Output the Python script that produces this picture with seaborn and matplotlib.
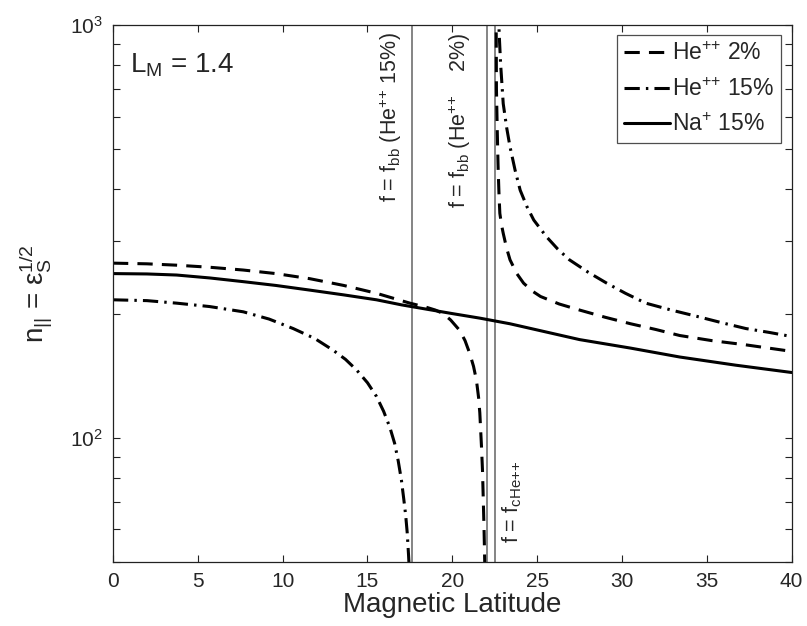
import numpy as np
import pandas as pd
import matplotlib
matplotlib.use("Agg")
import matplotlib.pyplot as plt
from matplotlib.lines import Line2D
from matplotlib.ticker import LogLocator, LogFormatterMathtext, NullFormatter
import seaborn as sns

# ---------------- data ----------------
he2_left_x = [0, 2, 3.75, 5.7, 7.68, 9.6, 11.6, 13.6, 15.53, 16.5, 17.5, 18.5, 19.0, 19.46,
              19.9, 20.44, 20.75, 21.03, 21.25, 21.42, 21.55, 21.62, 21.72, 21.78, 21.82, 21.87, 21.91, 21.95]
he2_left_y = [265, 264, 262, 259, 255, 250, 243, 234, 224, 218, 212, 207, 204, 200,
              193, 182, 172, 160, 149, 138, 125, 115, 95, 83, 72, 60, 50, 45]
he2_right_x = [22.58, 22.6, 22.65, 22.7, 22.75, 22.8, 22.9, 23.0, 23.2, 23.4, 23.8, 24.2, 24.7,
               25.2, 26.3, 27.5, 29.0, 30.5, 32.0, 33.4, 35.3, 37.3, 40]
he2_right_y = [1100, 700, 550, 450, 390, 350, 328, 313, 288, 270, 250, 237, 227,
               220, 211, 204, 196, 189, 183, 177, 172, 168, 162]

he15_left_x = [0, 2, 3.75, 5.7, 7.68, 9.2, 10.62, 11.9, 12.98, 13.7, 14.36, 15.0, 15.53, 15.95,
               16.32, 16.6, 16.81, 17.0, 17.14, 17.25, 17.34, 17.42, 17.5]
he15_left_y = [216, 215, 212, 208, 202, 194, 184, 174, 163, 155, 146, 136, 126, 116,
               106, 97, 88, 79, 71, 65, 59, 52, 45]
he15_right_x = [22.72, 22.76, 22.85, 23.0, 23.2, 23.4, 23.7, 24.0, 24.4, 24.8, 25.55, 26.2, 26.9,
                28.0, 29.1, 30.2, 31.4, 32.9, 34.4, 35.9, 37.3, 38.7, 40]
he15_right_y = [1100, 955, 800, 645, 565, 507, 445, 398, 363, 337, 307, 287, 270,
                252, 237, 224, 212, 204, 197, 190, 184, 180, 176]

na15_x = [0, 2, 3.75, 5.7, 7.68, 9.6, 11.6, 13.6, 15.53, 17, 18.48, 20, 21.62, 23.39,
          25.4, 27.5, 30.5, 33.4, 36.7, 40]
na15_y = [250, 249.5, 248, 244, 239, 234, 228, 222, 216, 210, 205, 200, 195, 189,
          181, 173, 165, 157, 150, 144]

series_labels = [r"He$^{{+}{+}}$ 2%", r"He$^{{+}{+}}$ 15%", r"Na$^{+}$ 15%"]
vlines_x = [17.6, 22.03, 22.5]
vline_texts = [r"f = f$_{\mathrm{bb}}$ (He$^{{+}{+}}$ 15%)",
               r"f = f$_{\mathrm{bb}}$ (He$^{{+}{+}}$    2%)",
               r"f = f$_{\mathrm{cHe{+}{+}}}$"]

# ---------------- build table ----------------
rows = []
def add(xs, ys, label, branch):
    for x, y in zip(xs, ys):
        rows.append({"lat": x, "n": y, "series": label, "branch": branch})

add(he2_left_x, he2_left_y, series_labels[0], "he2L")
add(he2_right_x, he2_right_y, series_labels[0], "he2R")
add(he15_left_x, he15_left_y, series_labels[1], "he15L")
add(he15_right_x, he15_right_y, series_labels[1], "he15R")
add(na15_x, na15_y, series_labels[2], "na")
df = pd.DataFrame(rows)

# ---------------- style ----------------
sns.set_style("ticks")
plt.rcParams["font.family"] = ["Liberation Sans", "DejaVu Sans"]
plt.rcParams["mathtext.fontset"] = "custom"
plt.rcParams["mathtext.rm"] = "Liberation Sans"
plt.rcParams["mathtext.it"] = "Liberation Sans"
plt.rcParams["mathtext.bf"] = "Liberation Sans:bold"
plt.rcParams["mathtext.sf"] = "Liberation Sans"

fig = plt.figure(figsize=(8.07, 6.26), dpi=100)
ax = fig.add_axes([0.140, 0.102, 0.841, 0.858])

dash_map = {series_labels[0]: (0, (5, 3)),
            series_labels[1]: (0, (5, 2, 0.8, 2)),
            series_labels[2]: "-"}
lw = 2.2

for br, sub in df.groupby("branch", sort=False):
    lab = sub["series"].iloc[0]
    sns.lineplot(data=sub, x="lat", y="n", ax=ax, color="black", linewidth=lw,
                 linestyle=dash_map[lab], estimator=None, sort=False, legend=False)

for xv in vlines_x:
    ax.axvline(xv, color="#707070", linewidth=1.2, zorder=1)

ax.set_yscale("log")
ax.set_xlim(0, 40)
ax.set_ylim(50, 1000)
ax.set_xticks([0, 5, 10, 15, 20, 25, 30, 35, 40])
ax.yaxis.set_major_locator(LogLocator(base=10))
ax.yaxis.set_major_formatter(LogFormatterMathtext())
ax.yaxis.set_minor_locator(LogLocator(base=10, subs=np.arange(2, 10)))
ax.yaxis.set_minor_formatter(NullFormatter())

ax.tick_params(axis="both", which="both", direction="in", top=True, right=True,
               length=5, width=0.8, color="#222222")
ax.tick_params(axis="both", which="major", labelsize=15, pad=7)
for s in ax.spines.values():
    s.set_linewidth(0.9)
    s.set_color("#222222")

ax.set_xlabel("Magnetic Latitude", fontsize=20, labelpad=1)
ax.set_ylabel(r"n$_{||}$ = ε$_{S}^{1/2}$", fontsize=20, labelpad=12)

ax.text(0.025, 0.925, r"L$_{\mathrm{M}}$ = 1.4", transform=ax.transAxes,
        fontsize=20, ha="left", va="center")

trans = ax.get_xaxis_transform()
ax.text(16.4, 0.987, vline_texts[0], transform=trans, rotation=90,
        ha="center", va="top", fontsize=15.5)
ax.text(20.45, 0.987, vline_texts[1], transform=trans, rotation=90,
        ha="center", va="top", fontsize=15.5)
ax.text(23.55, 0.035, vline_texts[2], transform=trans, rotation=90,
        ha="center", va="bottom", fontsize=15.5)

handles = [Line2D([], [], color="black", linewidth=lw, linestyle=dash_map[l])
           for l in series_labels]
leg = ax.legend(handles, series_labels, loc="upper right", fontsize=16.5,
                frameon=True, fancybox=False, edgecolor="#222222",
                handlelength=2.0, handletextpad=0.1, borderpad=0.3,
                labelspacing=0.55, borderaxespad=0.45)
leg.get_frame().set_linewidth(0.9)

fig.savefig("out.png", dpi=100, facecolor="white")
